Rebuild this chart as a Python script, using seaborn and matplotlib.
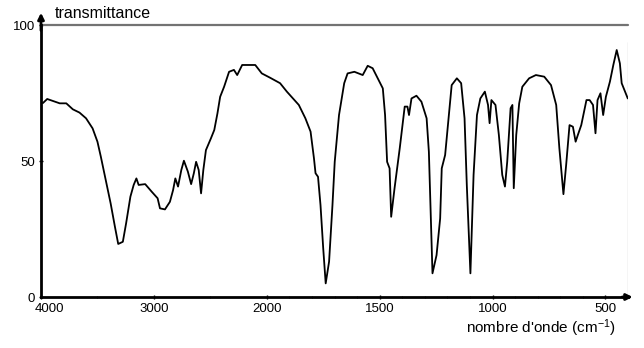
import numpy as np
import pandas as pd
import matplotlib
matplotlib.use("Agg")
import matplotlib.pyplot as plt
import matplotlib.transforms as mtransforms
import seaborn as sns

wavenumber = [3983, 3945, 3834, 3776, 3718, 3659, 3601, 3543, 3500, 3470,
              3426, 3383, 3345, 3316, 3275, 3246, 3208, 3179, 3155, 3135,
              3077, 3019, 2967, 2946, 2902, 2858, 2830, 2810, 2786, 2757,
              2734, 2699, 2670, 2646, 2626, 2603, 2582, 2562, 2539, 2495,
              2465, 2437, 2413, 2378, 2334, 2291, 2262, 2218, 2175, 2102,
              2044, 1985, 1941, 1911, 1858, 1829, 1806, 1791, 1784, 1773,
              1762, 1750, 1739, 1724, 1709, 1699, 1680, 1657, 1642, 1612,
              1575, 1553, 1531, 1501, 1486, 1476, 1467, 1456, 1449, 1434,
              1411, 1389, 1377, 1370, 1359, 1337, 1315, 1292, 1282, 1273,
              1266, 1248, 1232, 1225, 1210, 1195, 1181, 1158, 1139, 1124,
              1114, 1098, 1084, 1069, 1054, 1034, 1020, 1013, 1005, 987,
              972, 957, 945, 935, 920, 912, 906, 895, 882, 868,
              838, 808, 771, 741, 718, 704, 686, 674, 659, 644,
              632, 622, 607, 584, 570, 555, 544, 535, 522, 510,
              498, 480, 465, 450, 436, 428, 413, 401]

transmittance = [71.3, 72.8, 71.2, 71.2, 69.0, 67.8, 65.7, 62.0, 57.1, 51.6,
                 43.0, 34.4, 25.8, 19.5, 20.3, 27.1, 36.9, 41.2, 43.6, 41.2,
                 41.5, 38.7, 36.3, 32.6, 32.2, 35.0, 39.3, 43.6, 40.6, 46.7,
                 50.1, 46.1, 41.5, 45.5, 49.7, 46.7, 38.1, 46.7, 54.0, 58.3,
                 61.4, 67.5, 73.6, 77.3, 82.8, 83.5, 81.6, 85.3, 85.3, 85.3,
                 82.2, 80.6, 78.6, 75.5, 70.6, 65.7, 60.8, 51.0, 45.5, 44.2,
                 33.8, 17.9, 5.0, 13.0, 33.8, 49.7, 66.9, 78.6, 82.2, 82.8,
                 81.6, 85.0, 84.1, 79.2, 76.7, 66.9, 49.7, 47.3, 29.5, 40.0,
                 54.7, 70.0, 70.0, 66.9, 73.0, 74.0, 71.8, 65.7, 53.4, 27.7,
                 8.7, 15.4, 28.9, 47.3, 52.2, 65.7, 77.9, 80.4, 78.6, 65.7,
                 41.2, 8.7, 44.9, 66.9, 73.0, 75.5, 70.6, 63.9, 72.4, 70.6,
                 59.6, 44.9, 40.6, 49.7, 69.4, 70.6, 40.0, 59.6, 71.2, 77.3,
                 80.4, 81.6, 81.0, 77.9, 70.6, 54.7, 37.8, 48.5, 63.2, 62.6,
                 57.1, 59.6, 63.2, 72.4, 72.4, 70.6, 60.2, 72.4, 74.9, 66.9,
                 73.6, 79.2, 85.3, 90.8, 85.9, 78.6, 75.5, 73.0]

x_ticks = [4000, 3000, 2000, 1500, 1000, 500]
y_ticks = [0, 50, 100]
y_label = "transmittance"
x_label = "nombre d'onde (cm$^{-1}$)"

sns.set_theme(style="white")
plt.rcParams["font.family"] = ["Liberation Sans", "DejaVu Sans"]
plt.rcParams["mathtext.fontset"] = "custom"
plt.rcParams["mathtext.rm"] = "Liberation Sans"
plt.rcParams["mathtext.it"] = "Liberation Sans"

df = pd.DataFrame({"w": wavenumber, "T": transmittance})

fig = plt.figure(figsize=(6.44, 3.48), dpi=100)
ax = fig.add_axes([41 / 644, 1 - 297 / 348, (628 - 41) / 644, (297 - 25) / 348])


def fwd(x):
    x = np.asarray(x, dtype=float)
    return np.where(x >= 2000, x, 2 * x - 2000)


def inv(y):
    y = np.asarray(y, dtype=float)
    return np.where(y >= 2000, y, (y + 2000) / 2)


ax.set_xscale("function", functions=(fwd, inv))

sns.lineplot(data=df, x="w", y="T", ax=ax, color="black", linewidth=1.3,
             estimator=None, sort=False)

ax.set_xlim(4000, 400)
ax.set_ylim(0, 100)
ax.set_xticks(x_ticks)
ax.set_xticklabels([str(t) for t in x_ticks])
ax.set_xticks([3500, 2500] + list(range(1900, 400, -100)), minor=True)
ax.set_yticks(y_ticks)
ax.set_yticklabels([str(t) for t in y_ticks])
ax.set_xlabel("")
ax.set_ylabel("")

ax.tick_params(axis="both", which="major", labelsize=9.5, length=3, width=1,
               direction="inout", color="black", labelcolor="black", pad=3)
ax.tick_params(axis="x", which="minor", length=2, width=0.8, direction="inout",
               color="0.3")
ax.tick_params(axis="x", which="both", bottom=True)
ax.tick_params(axis="y", which="both", left=True)

# shift the first x label right, as in the reference
lab0 = ax.get_xticklabels()[0]
lab0.set_transform(lab0.get_transform() +
                   mtransforms.ScaledTranslation(0.08, 0, fig.dpi_scale_trans))

for s in ["top", "right"]:
    ax.spines[s].set_visible(False)
for s in ["left", "bottom"]:
    ax.spines[s].set_color("black")
    ax.spines[s].set_linewidth(2)

# arrows on axes
ax.annotate("", xy=(0, 1.045), xytext=(0, 0.98), xycoords="axes fraction",
            arrowprops=dict(arrowstyle="-|>", lw=2, color="black",
                            mutation_scale=9, shrinkA=0, shrinkB=0))
ax.annotate("", xy=(1.008, 0), xytext=(0.99, 0), xycoords="axes fraction",
            arrowprops=dict(arrowstyle="-|>", lw=2, color="black",
                            mutation_scale=9, shrinkA=0, shrinkB=0))

# gray line at 100 % and thin right border
ax.axhline(100, color="0.45", linewidth=1.6, clip_on=False)
ax.axvline(401, ymin=0, ymax=0.9375, color="0.35", linewidth=0.8)

fig.text(55 / 644, 1 - 13 / 348, y_label, fontsize=11.5, ha="left",
         va="center", color="black")
fig.text(541 / 644, 1 - 328 / 348, x_label, fontsize=11, ha="center",
         va="center", color="black")

fig.savefig("out.png", dpi=100)
